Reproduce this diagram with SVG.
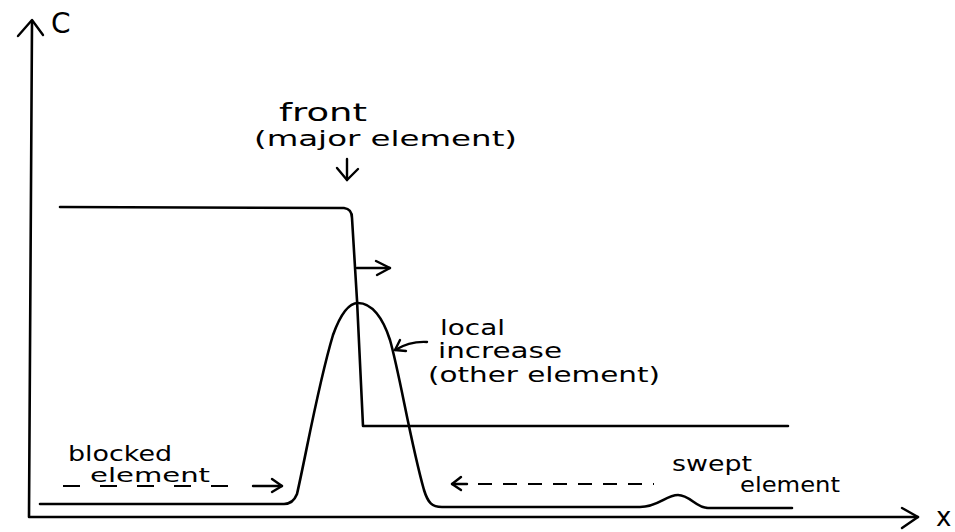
<svg xmlns="http://www.w3.org/2000/svg" width="955" height="532" viewBox="0 0 955 532">
  <style>
    .ln { fill: none; stroke: #000; stroke-width: 2.6; stroke-linecap: round; stroke-linejoin: round; }
    .ar { fill: none; stroke: #000; stroke-width: 2.4; stroke-linecap: round; stroke-linejoin: round; }
    .ds { fill: none; stroke: #000; stroke-width: 2.2; stroke-linecap: butt; }
    text { font-family: "DejaVu Sans", "Liberation Sans", sans-serif; fill: #000; }
  </style>
  <rect width="955" height="532" fill="#fff"/>

  <g id="axes">
    <path class="ln" d="M32 22 L29 517 L918 517"/>
    <path class="ar" d="M18 36 L32 20 L43 35"/>
    <path class="ar" d="M902 508 L918 517 L902 528"/>
    <text x="51" y="33" font-size="28">C</text>
    <text x="936" y="526" font-size="26">x</text>
  </g>

  <g id="major-element">
    <path class="ln" d="M60 207 L344 208 Q352 209 352 218 L357 300 L363 426 L788 426"/>
  </g>

  <g id="other-element">
    <path class="ln" d="M40 504 L284 504 Q293 504 297 494 C306 455 318 385 333 335 C342 310 350 303 358 303 C372 303 383 318 390 340 C400 375 410 440 424 490 C428 503 432 507 442 507 L640 507 C658 507 666 495 678 495 C690 495 696 508 708 508 L792 508"/>
  </g>

  <g id="connectors">
    <path class="ar" d="M347 159 L347 180"/>
    <path class="ar" d="M337 168 L347 180 L358 169"/>
    <path class="ar" d="M357 268 L390 268"/>
    <path class="ar" d="M376 261 L390 268 L377 275"/>
    <path class="ar" d="M427 342 Q410 341 395 350"/>
    <path class="ar" d="M400 340 L395 350 L406 351"/>
    <path class="ds" d="M63 486 L233 486" stroke-dasharray="17 20"/>
    <path class="ar" d="M253 486 L282 486"/>
    <path class="ar" d="M272 479 L282 486 L272 492"/>
    <path class="ds" d="M478 484 L654 484" stroke-dasharray="14 11"/>
    <path class="ar" d="M452 484 L467 484"/>
    <path class="ar" d="M461 477 L452 484 L461 490"/>
  </g>

  <g id="label-front">
    <text x="279" y="121" font-size="25" textLength="88" lengthAdjust="spacingAndGlyphs">front</text>
    <text x="254" y="146" font-size="22" textLength="263" lengthAdjust="spacingAndGlyphs">(major element)</text>
  </g>

  <g id="label-local">
    <text x="440" y="335" font-size="22" textLength="65" lengthAdjust="spacingAndGlyphs">local</text>
    <text x="438" y="358" font-size="22" textLength="124" lengthAdjust="spacingAndGlyphs">increase</text>
    <text x="428" y="382" font-size="22" textLength="232" lengthAdjust="spacingAndGlyphs">(other element)</text>
  </g>

  <g id="label-blocked">
    <text x="68" y="461" font-size="21" textLength="104" lengthAdjust="spacingAndGlyphs">blocked</text>
    <text x="90" y="482" font-size="20" textLength="120" lengthAdjust="spacingAndGlyphs">element</text>
  </g>

  <g id="label-swept">
    <text x="672" y="471" font-size="21" textLength="80" lengthAdjust="spacingAndGlyphs">swept</text>
    <text x="740" y="492" font-size="21" textLength="100" lengthAdjust="spacingAndGlyphs">element</text>
  </g>
</svg>
